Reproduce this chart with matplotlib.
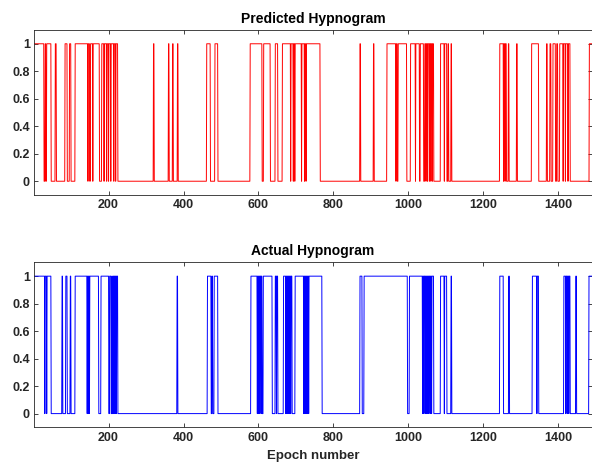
import numpy as np
import matplotlib
matplotlib.use("Agg")
import matplotlib.pyplot as plt

plt.rcParams['font.family'] = ['Liberation Sans', 'DejaVu Sans']

n_epochs = 1490

# epochs (start, end inclusive) where the state is 1
pred_on = [
    (1, 27), (31, 32), (35, 46), (58, 60), (84, 89), (96, 99), (111, 144), (146, 149),
    (152, 157), (159, 175), (182, 187), (189, 194), (196, 199), (201, 205), (207, 213),
    (215, 218), (220, 224),
    (320, 321), (360, 361), (371, 372), (384, 385),
    (462, 471), (484, 491),
    (578, 580), (581, 583), (584, 587), (588, 590), (591, 594), (595, 598), (599, 601),
    (602, 605), (606, 609), (614, 622), (623, 631), (645, 648), (649, 651),
    (664, 668), (669, 671), (672, 674), (675, 678), (679, 681), (682, 685), (687, 689),
    (690, 692), (694, 696), (698, 703), (704, 707), (708, 710), (711, 714), (716, 718),
    (719, 722), (724, 726), (728, 764),
    (871, 872), (907, 908),
    (943, 945), (946, 948), (949, 951), (952, 954), (955, 957), (958, 960), (961, 963),
    (964, 966), (968, 970), (973, 995),
    (1006, 1018), (1020, 1024), (1025, 1029), (1032, 1040), (1044, 1046), (1048, 1050),
    (1052, 1055), (1057, 1059), (1061, 1063), (1065, 1067),
    (1086, 1095), (1097, 1102), (1106, 1107), (1114, 1115),
    (1244, 1253), (1255, 1257), (1259, 1261), (1267, 1268), (1289, 1290),
    (1329, 1347), (1369, 1370), (1378, 1380), (1386, 1392), (1396, 1398),
    (1404, 1412), (1414, 1418), (1420, 1425), (1427, 1431), (1483, 1490),
]

act_on = [
    (1, 29), (31, 32), (33, 34), (36, 37), (38, 46), (76, 77), (86, 89), (98, 99),
    (111, 142), (144, 145), (147, 148), (150, 151), (152, 173), (180, 200), (203, 206),
    (209, 210), (213, 214), (216, 217), (219, 220), (222, 224),
    (383, 384),
    (464, 473), (476, 477), (482, 491),
    (580, 596), (598, 599), (601, 602), (604, 606), (608, 609), (613, 636),
    (645, 647), (649, 651),
    (667, 672), (674, 675), (677, 678), (680, 681), (683, 685), (687, 689),
    (698, 720), (722, 723), (725, 726), (728, 729), (731, 733), (735, 769),
    (871, 873), (874, 876), (882, 997), (1003, 1037), (1039, 1040), (1042, 1044),
    (1046, 1047), (1049, 1051), (1053, 1054), (1056, 1058), (1060, 1061), (1063, 1067),
    (1086, 1089), (1090, 1092), (1093, 1095), (1097, 1102), (1114, 1115),
    (1244, 1253), (1268, 1269),
    (1331, 1333), (1334, 1336), (1337, 1339), (1340, 1342), (1344, 1347),
    (1415, 1419), (1421, 1423), (1425, 1427), (1429, 1431), (1447, 1448), (1482, 1490),
]

xticks = [200, 400, 600, 800, 1000, 1200, 1400]
yticks = [0, 0.2, 0.4, 0.6, 0.8, 1]
ytick_labels = ["0", "0.2", "0.4", "0.6", "0.8", "1"]


def to_series(intervals):
    ep = np.arange(1, n_epochs + 1)
    y = np.zeros(n_epochs)
    for s, e in intervals:
        y[(ep >= s) & (ep <= e)] = 1
    return ep, y


def style(ax, title):
    ax.set_xlim(1, n_epochs)
    ax.set_ylim(-0.1, 1.1)
    ax.set_xticks(xticks)
    ax.set_yticks(yticks)
    ax.set_yticklabels(ytick_labels)
    ax.tick_params(direction='in', top=True, right=True, length=3, width=0.6,
                   labelsize=9, colors='#262626', pad=3)
    for lab in ax.get_xticklabels() + ax.get_yticklabels():
        lab.set_fontweight('bold')
    for sp in ax.spines.values():
        sp.set_color('#262626')
        sp.set_linewidth(0.6)
    ax.set_title(title, fontsize=10, fontweight='bold', color='black', pad=5)


fig = plt.figure(figsize=(5.92, 4.62), dpi=100)
ax1 = fig.add_axes([0.0574, 0.578, 0.9426, 0.357])
ax2 = fig.add_axes([0.0574, 0.075, 0.9426, 0.357])

x, y = to_series(pred_on)
ax1.plot(x, y, color=(1, 0, 0), linewidth=0.7)
style(ax1, "Predicted Hypnogram")

x, y = to_series(act_on)
ax2.plot(x, y, color=(0, 0, 1), linewidth=0.7)
style(ax2, "Actual Hypnogram")
ax2.set_xlabel("Epoch number", fontsize=9.5, fontweight='bold', color='#262626', labelpad=5)

fig.savefig("out.png", dpi=100)
